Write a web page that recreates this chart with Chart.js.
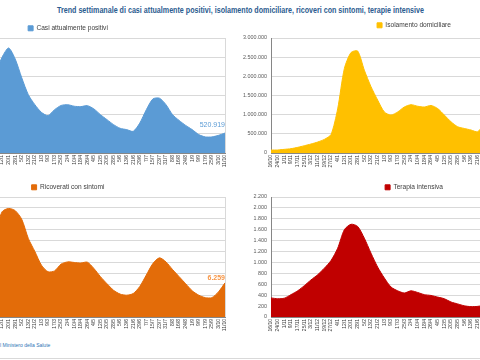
<!DOCTYPE html>
<html>
<head>
<meta charset="utf-8">
<script src="https://cdn.jsdelivr.net/npm/chart.js@4.4.0/dist/chart.umd.min.js"></script>
<style>
    html, body { margin: 0; padding: 0; background: #fff; }
    #wrap { position: relative; width: 480px; height: 360px; overflow: hidden; font-family: 'Liberation Sans', Arial, sans-serif; }
    canvas { position: absolute; }
    #title { position: absolute; top: 3px; left: 0; width: 480px; text-align: center; white-space: nowrap; line-height: 10px; }
    #title span { display: inline-block; font-weight: bold; font-size: 8.3px; color: #2B5C8F; transform-origin: center; }
    #fonte { position: absolute; left: 0; top: 342px; font-size: 5px; color: #2E75B6; white-space: nowrap; }
    #riga { position: absolute; left: 0; top: 358px; width: 480px; height: 1px; background: #D9D9D9; }
</style>
</head>
<body>
<div id="wrap">
    <canvas id="chartPositivi" width="330" height="152" style="left:-97px;top:21px"></canvas>
    <canvas id="chartIsolamento" width="352" height="155" style="left:238px;top:18px"></canvas>
    <canvas id="chartRicoverati" width="330" height="157" style="left:-97px;top:180px"></canvas>
    <canvas id="chartTerapia" width="352" height="157" style="left:238px;top:180px"></canvas>
    <div id="title"><span>Trend settimanale di casi attualmente positivi, isolamento domiciliare, ricoveri con sintomi, terapie intensive</span></div>
    <div id="fonte">l Ministero della Salute</div>
    <div id="riga"></div>
</div>
<script>
// date (ogni 8 giorni, dal 16/10/2021 al 11/10/2022)
const labels = ['16/10', '24/10', '1/11', '9/11', '17/11', '25/11', '3/12', '11/12', '19/12', '27/12',
    '4/1', '12/1', '20/1', '28/1', '5/2', '13/2', '21/2', '1/3', '9/3', '17/3',
    '25/3', '2/4', '10/4', '18/4', '26/4', '4/5', '12/5', '20/5', '28/5', '5/6',
    '13/6', '21/6', '29/6', '7/7', '15/7', '23/7', '31/7', '8/8', '16/8', '24/8',
    '1/9', '9/9', '17/9', '25/9', '3/10', '11/10'];

const positivi = [82000, 80000, 100000, 120000, 155000, 200000, 245000, 300000, 370000, 530000,
    2050000, 2500000, 2740000, 2450000, 1960000, 1520000, 1260000, 1060000, 975000, 1130000,
    1240000, 1260000, 1220000, 1210000, 1235000, 1150000, 1000000, 870000, 740000, 645000,
    610000, 565000, 780000, 1130000, 1410000, 1430000, 1260000, 1000000, 850000, 720000,
    610000, 480000, 420000, 420000, 460000, 520919];

const isolamento = [78000, 78000, 95000, 113000, 147000, 190000, 234000, 286000, 355000, 480000,
    1150000, 2200000, 2620000, 2660000, 2160000, 1730000, 1380000, 1070000, 990000, 1070000,
    1200000, 1260000, 1220000, 1200000, 1240000, 1160000, 990000, 815000, 685000, 640000,
    600000, 555000, 770000, 1120000, 1390000, 1410000, 1240000, 985000, 840000, 710000,
    600000, 470000, 412000, 413000, 453000, 514000];

const ricoverati = [2600, 2500, 2600, 3000, 3700, 4500, 5500, 6800, 8000, 9700,
    15500, 19300, 19900, 19500, 17900, 14400, 12000, 9500, 8300, 8450,
    9700, 10100, 10000, 9900, 10050, 8900, 7400, 6100, 4900, 4200,
    4000, 4300, 5600, 7700, 9800, 10850, 10100, 8700, 7400, 6100,
    4800, 4000, 3550, 3550, 4600, 6259];

const terapia = [350, 335, 345, 410, 480, 575, 680, 775, 895, 1035,
    1260, 1600, 1700, 1660, 1445, 1170, 915, 715, 550, 480,
    440, 480, 450, 410, 395, 365, 335, 275, 240, 205,
    190, 195, 220, 280, 370, 410, 400, 350, 310, 280,
    250, 210, 180, 150, 150, 180];

Chart.defaults.font.family = "'Liberation Sans', Arial, sans-serif";
Chart.defaults.color = "#595959";

// numeri all'italiana: 3.000.000
function formatIt(v) {
    return String(Math.round(v)).replace(/\B(?=(\d{3})+(?!\d))/g, ".");
}

// altezza fissa della legenda
const legendHeight = {
    id: "legendHeight",
    beforeInit(chart, args, opts) {
        const fit = chart.legend.fit;
        chart.legend.fit = function () {
            fit.call(this);
            this.height = opts.height;
        };
    }
};

// etichetta dell'ultimo valore
const lastValue = {
    id: "lastValue",
    afterDatasetsDraw(chart, args, opts) {
        if (!opts.show) return;
        const meta = chart.getDatasetMeta(0);
        const pt = meta.data[meta.data.length - 1];
        const data = chart.data.datasets[0].data;
        const ctx = chart.ctx;
        ctx.save();
        ctx.font = (opts.bold ? "bold " : "") + "7px 'Liberation Sans', Arial, sans-serif";
        ctx.fillStyle = opts.color;
        ctx.textAlign = "right";
        ctx.textBaseline = "bottom";
        ctx.fillText(formatIt(data[data.length - 1]), pt.x, pt.y - opts.dy);
        ctx.restore();
    }
};

function makeChart(id, label, data, color, cfg) {
    const scales = {
        x: {
            ticks: { autoSkip: false, minRotation: 90, maxRotation: 90, padding: 2, font: { size: 5 }, color: "#404040" },
            grid: {
                display: cfg.left,
                drawTicks: false,
                color: ctx => ctx.index === labels.length - 1 ? "#D9D9D9" : "rgba(0,0,0,0)"
            },
            border: { color: "#868686" },
            afterFit: s => { s.height = 20; }
        },
        y: {
            min: 0,
            max: cfg.max,
            ticks: { stepSize: cfg.step, display: !cfg.left, padding: 4, font: { size: 5.4 }, callback: v => formatIt(v) },
            grid: { color: "#D9D9D9", drawTicks: false },
            border: { display: !cfg.left, color: "#868686" },
            afterFit: s => { s.width = cfg.left ? 27 : 33; }
        }
    };
    if (!cfg.left) {
        // spazio a destra fuori dall'area visibile
        scales.pad = {
            position: "right",
            display: true,
            ticks: { display: false },
            grid: { display: false },
            border: { display: false },
            afterFit: s => { s.width = 19; }
        };
    }

    return new Chart(document.getElementById(id), {
        type: "line",
        data: {
            labels: labels,
            datasets: [{
                label: label,
                data: data,
                backgroundColor: color,
                borderColor: color,
                borderWidth: 1,
                fill: "origin",
                pointRadius: 0,
                tension: 0.25
            }]
        },
        options: {
            responsive: false,
            animation: false,
            devicePixelRatio: 1,
            layout: { padding: 0 },
            plugins: {
                legend: {
                    labels: { boxWidth: 5, boxHeight: 5, padding: 4, font: { size: 6.6 }, color: "#404040" }
                },
                tooltip: { enabled: false },
                legendHeight: { height: cfg.legendH },
                lastValue: { show: cfg.left, color: cfg.labelColor, bold: cfg.bold, dy: cfg.dy }
            },
            scales: scales
        },
        plugins: [legendHeight, lastValue]
    });
}

makeChart("chartPositivi", "Casi attualmente positivi", positivi, "#5B9BD5",
    { left: true, max: 3000000, step: 500000, legendH: 17, labelColor: "#5B9BD5", bold: false, dy: 4 });
makeChart("chartIsolamento", "Isolamento domiciliare", isolamento, "#FFC000",
    { left: false, max: 3000000, step: 500000, legendH: 20 });
makeChart("chartRicoverati", "Ricoverati con sintomi", ricoverati, "#E36C09",
    { left: true, max: 22000, step: 2000, legendH: 17, labelColor: "#F79646", bold: true, dy: 1 });
makeChart("chartTerapia", "Terapia intensiva", terapia, "#C00000",
    { left: false, max: 2200, step: 200, legendH: 17 });

// adatta il titolo alla larghezza dell'originale
const t = document.querySelector("#title span");
t.style.transform = "scaleX(" + (367 / t.offsetWidth) + ")";
</script>
</body>
</html>
